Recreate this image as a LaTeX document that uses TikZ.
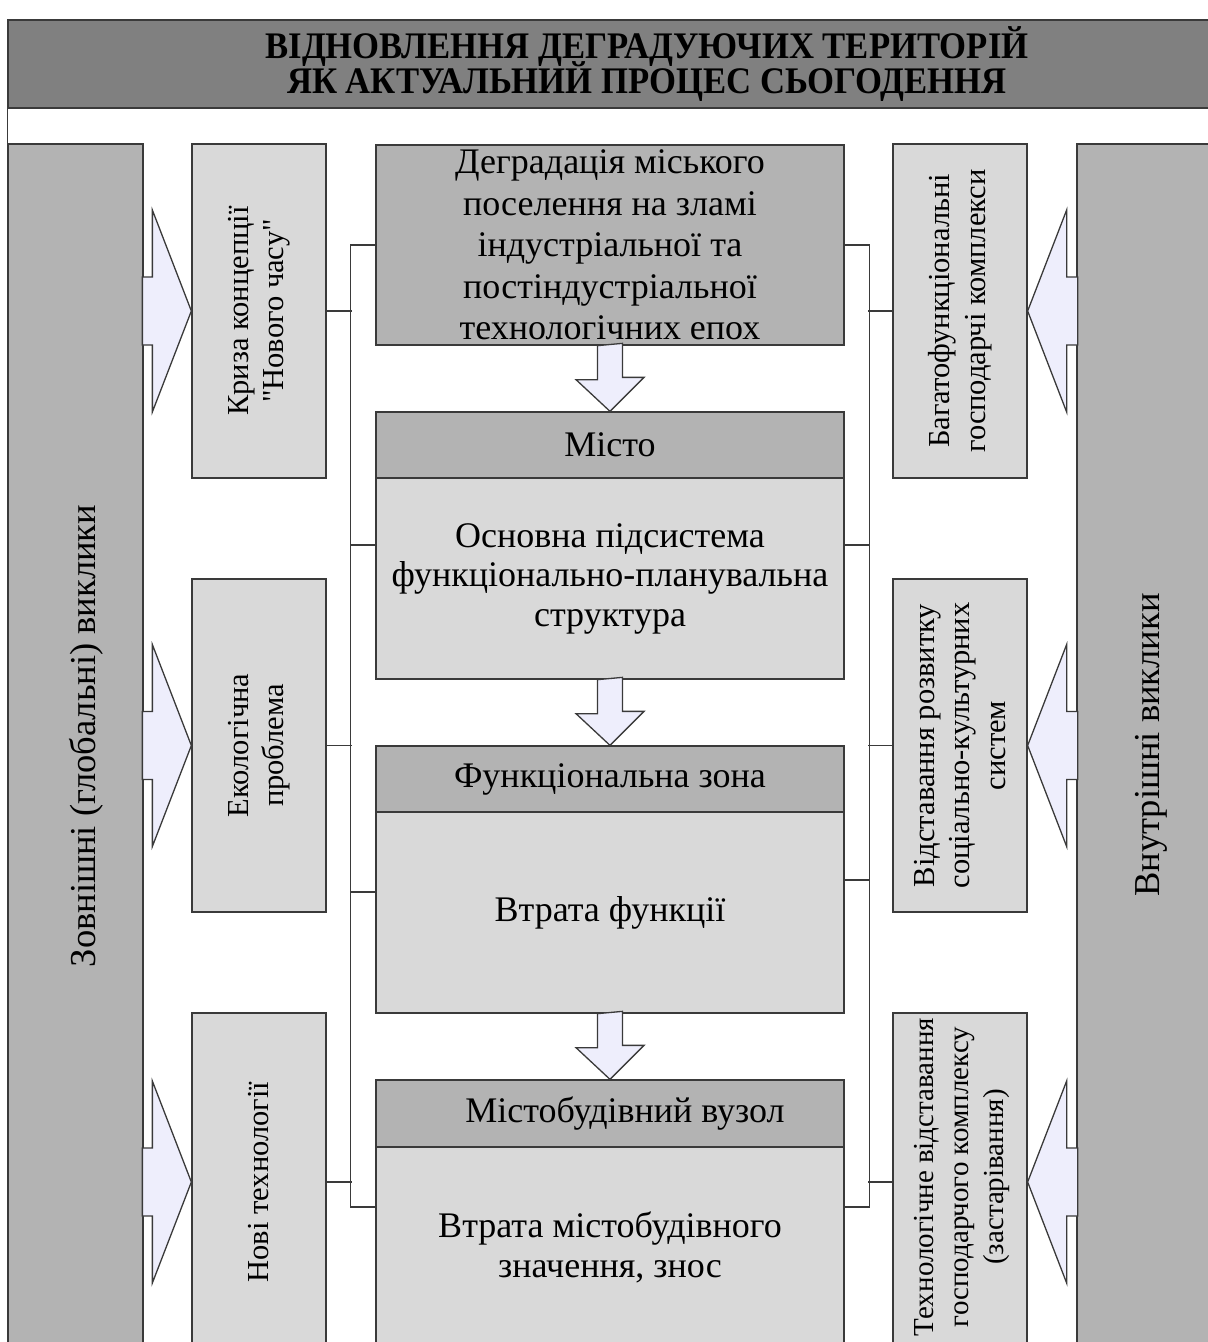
\documentclass[tikz,border=0pt]{standalone}
\usepackage{fontspec}
\setmainfont{Liberation Serif}
\newfontfamily\titlefont{Liberation Serif}[FakeStretch=0.925]
\newcommand\tightskip{\lineskiplimit=-50pt\relax}
\definecolor{titlegray}{HTML}{808080}
\definecolor{boxdark}{HTML}{B3B3B3}
\definecolor{boxlight}{HTML}{D9D9D9}
\definecolor{arrowfill}{HTML}{EEEEFC}
\definecolor{edgegray}{HTML}{3A3A3A}
\begin{document}
\begin{tikzpicture}
[x=1pt, y=-1pt, line width=1.3pt,
 box/.style={draw=edgegray, rectangle, inner sep=0pt, align=center},
 darkbox/.style={box, fill=boxdark},
 lightbox/.style={box, fill=boxlight},
 vtext/.style={rotate=90, align=center, inner sep=0pt, font=\fontsize{30.5}{35.5}\selectfont\tightskip},
 bigtext/.style={vtext, font=\fontsize{36.5}{40}\selectfont},
 sidebox/.style={lightbox, minimum width=134pt},
 headbox/.style={darkbox, minimum width=468pt, minimum height=66pt, font=\fontsize{36}{41.5}\selectfont},
 midbox/.style={lightbox, minimum width=468pt, minimum height=201pt, font=\fontsize{36}{39.5}\selectfont\tightskip},
 link/.style={draw=edgegray},
 blockarrow/.style={draw=edgegray, fill=arrowfill, line join=miter}]
\useasboundingbox (0,0) rectangle (1208,1342);
\clip (0,0) rectangle (1208,1342);

% title
\node[box, fill=titlegray, minimum width=1278pt, minimum height=88pt, font=\titlefont\bfseries\fontsize{37.5}{35}\selectfont\tightskip] (title) at (647,64) {ВІДНОВЛЕННЯ ДЕГРАДУЮЧИХ ТЕРИТОРІЙ\\ЯК АКТУАЛЬНИЙ ПРОЦЕС СЬОГОДЕННЯ};

% challenges
\node[darkbox, minimum width=135pt, minimum height=1212pt] (outer) at (75.5,750) {};
\node[bigtext] (outertext) at (86,736) {Зовнішні (глобальні) виклики};
\node[darkbox, minimum width=142pt, minimum height=1202pt] (inner) at (1148,745) {};
\node[bigtext] (innertext) at (1151,745) {Внутрішні виклики};
\draw[link] (title.south west) -- (outer.north west);

% left factors
\node[sidebox, minimum height=334pt, label={[vtext]center:Криза концепції\\\textquotedbl Нового часу\textquotedbl}] (crisis) at (259,311) {};
\node[sidebox, minimum height=333pt, label={[vtext]center:Екологічна\\проблема}] (ecology) at (259,745.5) {};
\node[sidebox, minimum height=338pt, label={[vtext]center:Нові технології}] (newtech) at (259,1182) {};

% right factors
\node[sidebox, minimum height=334pt, label={[vtext]center:Багатофункціональні\\господарчі комплекси}] (multi) at (960,311) {};
\node[sidebox, minimum height=333pt, label={[vtext]center:Відставання розвитку\\соціально-культурних\\систем}] (lag) at (960,745.5) {};
\node[sidebox, minimum height=338pt] (techlag) at (960,1182) {};
\node[vtext, font=\fontsize{29}{35}\selectfont\tightskip] (techlagtext) at (962,1177) {Технологічне відставання\\господарчого комплексу\\(застарівання)};

% central column
\node[darkbox, minimum width=468pt, minimum height=200pt, font=\fontsize{36}{41.5}\selectfont\tightskip] (degr) at (610,245) {Деградація міського\\поселення на зламі\\індустріальної та\\постіндустріальної\\технологічних епох};
\node[headbox] (cityhead) at (610,445) {Місто};
\node[midbox] (citybody) at (610,578.5) {Основна підсистема\\функціонально-планувальна\\структура};
\node[headbox] (zonehead) at (610,779) {Функціональна зона};
\node[midbox] (zonebody) at (610,912.5) {Втрата функції};
\node[headbox, minimum height=67pt] (nodehead) at (610,1113.5) {\hspace*{30pt}Містобудівний вузол};
\node[midbox] (nodebody) at (610,1247.5) {Втрата містобудівного\\значення, знос};

% down arrows
\foreach \a/\b in {degr/cityhead, citybody/zonehead, zonebody/nodehead}
  \draw[blockarrow] ([xshift=-12.5pt]\a.south) -- ++(0,34) -- ++(-21.5,0) -- (\b.north) -- ++(34,-34) -- ++(-21.5,0) -- ++(0,-34) -- cycle;

% side arrows
\foreach \b in {crisis, ecology, newtech}
  \draw[blockarrow] (\b.west) -- ++(-39,-101) -- ++(0,67) -- ++(-10,0) -- ++(0,68) -- ++(10,0) -- ++(0,67) -- cycle;
\foreach \b in {multi, lag, techlag}
  \draw[blockarrow] (\b.east) -- ++(39,-101) -- ++(0,67) -- ++(11,0) -- ++(0,68) -- ++(-11,0) -- ++(0,67) -- cycle;

% connectors
\draw[link] (degr.west) -- ++(-25,0) |- ([yshift=40.5pt]nodebody.west);
\draw[link] (degr.east) -- ++(25,0) |- ([yshift=40.5pt]nodebody.east);
\foreach \b in {crisis, ecology, newtech}
  \draw[link] (\b.east) -- ++(25,0);
\foreach \b in {multi, lag, techlag}
  \draw[link] (\b.west) -- ++(-24,0);
\draw[link] ([yshift=33.5pt]citybody.west) -- ++(-25,0);
\draw[link] ([yshift=20.5pt]zonebody.west) -- ++(-25,0);
\draw[link] ([yshift=33.5pt]citybody.east) -- ++(25,0);
\draw[link] ([yshift=32.5pt]zonebody.east) -- ++(25,0);
\end{tikzpicture}
\end{document}
